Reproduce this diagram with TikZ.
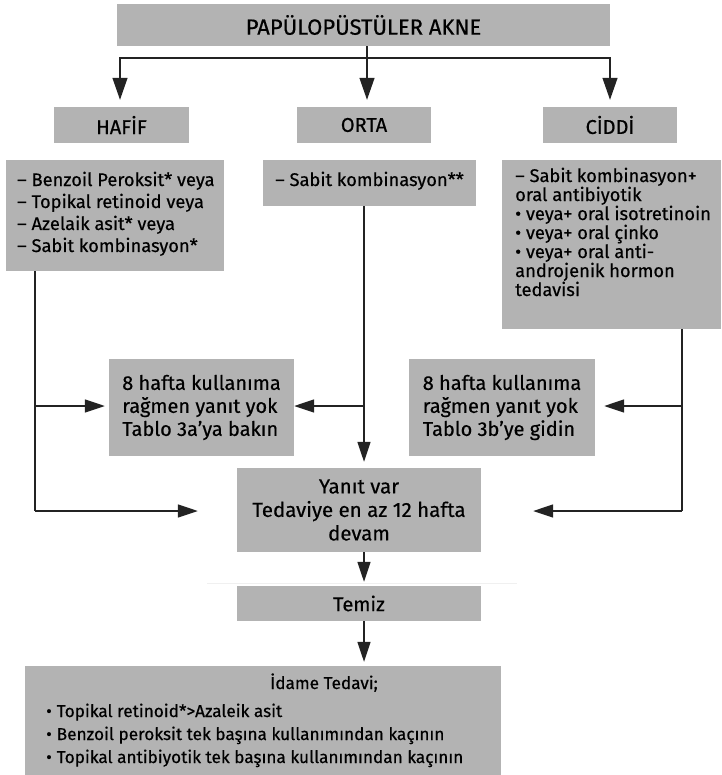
\documentclass[tikz,border=0pt]{standalone}
\usepackage{fontspec}
\setmainfont{Fira Sans}[FakeBold=0.45]
\usetikzlibrary{arrows.meta,calc}
\definecolor{boxgray}{RGB}{179,179,179}
\definecolor{linegray}{RGB}{35,35,35}
\begin{document}
\begin{tikzpicture}[x=1pt,y=-1pt,
  box/.style={fill=boxgray, draw=none, inner sep=0pt, anchor=center},
  ln/.style={line width=1.3pt, draw=linegray},
  arr/.style={line width=1.3pt, draw=linegray, -{Triangle[length=20pt,width=13pt]}},
  bigarr/.style={line width=1.3pt, draw=linegray, -{Triangle[length=22pt,width=15pt]}},
  ttl/.style={font=\fontsize{22}{24}\selectfont},
  lvl/.style={font=\fontsize{20}{23}\selectfont},
  midtxt/.style={font=\fontsize{20}{23}\selectfont, align=left},
  ctrtxt/.style={font=\fontsize{20.5}{23.5}\selectfont, align=center},
  listtxt/.style={font=\fontsize{18.3}{22}\selectfont, align=left, inner sep=0pt, anchor=base west},
  listtxtb/.style={font=\fontsize{18.3}{19}\selectfont, align=left, inner sep=0pt, anchor=base west},
  idtxt/.style={font=\fontsize{17.2}{23}\selectfont, align=left, inner sep=0pt, anchor=base west}
]
\useasboundingbox (0,0) rectangle (721,775);

% faint rule
\draw[gray!12, line width=0.8pt] (207,583) -- (517,583);

% level boxes
\node[box, ttl, minimum width=493pt, minimum height=42pt] (title) at (363.5,25) {PAPÜLOPÜSTÜLER AKNE};
\node[box, lvl, minimum width=135pt, minimum height=36pt] (hafif) at (121.5,125) {HAFİF};
\node[box, lvl, minimum width=134pt, minimum height=36pt] (orta) at (364,125) {ORTA};
\node[box, lvl, minimum width=134pt, minimum height=36pt] (ciddi) at (610,125) {CİDDİ};

% lists (base anchor = baseline of the last line)
\node[box, minimum width=218pt, minimum height=111pt] (hl) at (115,215.5) {};
\node[listtxt] (hlt) at (17,252) {– Benzoil Peroksit* veya\\– Topikal retinoid veya\\– Azelaik asit* veya\\– Sabit kombinasyon*};

\node[box, minimum width=213pt, minimum height=46pt] (ol) at (369.5,183) {};
\node[listtxt] (olt) at (275,186) {– Sabit kombinasyon**};

\node[box, minimum width=219pt, minimum height=169pt] (cl) at (611.5,244.5) {};
\node[listtxtb] (clt) at (515,296) {– Sabit kombinasyon+\\oral antibiyotik\\• veya+ oral isotretinoin\\• veya+ oral çinko\\• veya+ oral anti-\\androjenik hormon\\tedavisi};

% no-response boxes
\node[box, midtxt, minimum width=185pt, minimum height=97pt] (b8a) at (201.5,407.5) {8 hafta kullanıma\\rağmen yanıt yok\\Tablo 3a'ya bakın};
\node[box, midtxt, minimum width=186pt, minimum height=97pt] (b8b) at (502,407.5) {8 hafta kullanıma\\rağmen yanıt yok\\Tablo 3b'ye gidin};

% response
\node[box, ctrtxt, minimum width=244pt, minimum height=84pt] (yanit) at (359,510) {Yanıt var\\Tedaviye en az 12 hafta\\devam};
\node[box, lvl, minimum width=244pt, minimum height=35pt] (temiz) at (359,603.5) {Temiz};

% maintenance
\node[box, minimum width=476pt, minimum height=109pt] (idame) at (263,720.5) {};
\node[idtxt, anchor=base] (idt) at (324,689) {İdame Tedavi;};
\node[idtxt] (idl) at (46,763) {•\hspace{5pt}Topikal retinoid*>Azaleik asit\\•\hspace{5pt}Benzoil peroksit tek başına kullanımından kaçının\\•\hspace{5pt}Topikal antibiyotik tek başına kullanımından kaçının};

% top connectors
\coordinate (split) at (367,58);
\draw[ln] (title.south -| split) -- (split);
\draw[bigarr, shorten >=7pt] (split) -| ([xshift=-1.5pt]hafif.north);
\draw[bigarr, shorten >=7pt] (split) -- (split |- orta.north);
\draw[bigarr, shorten >=7pt] (split) -| (ciddi.north);

% left chain
\coordinate (lA) at (35,406);
\coordinate (lB) at (35,511);
\draw[ln] (hl.south -| lB) -- (lB);
\draw[arr, shorten >=4pt] (lA) -- (lA -| b8a.west);
\draw[arr, shorten >=39pt] (lB) -- (lB -| yanit.west);

% centre chain
\coordinate (cA) at (364,406);
\draw[arr, shorten >=6pt] (ol.south -| cA) -- (cA |- yanit.north);
\draw[arr] (cA) -- (cA -| b8a.east);
\draw[arr, shorten >=4pt] (yanit.south -| cA) -- (temiz.north -| cA);
\draw[arr, shorten >=4pt] (temiz.south -| cA) -- (idame.north -| cA);

% right chain
\coordinate (rA) at (682,406);
\coordinate (rB) at (682,511);
\draw[ln] (cl.south -| rB) -- (rB);
\draw[arr, shorten >=9pt] (rA) -- (rA -| b8b.east);
\draw[arr, shorten >=52pt] (rB) -- (rB -| yanit.east);
\end{tikzpicture}
\end{document}
